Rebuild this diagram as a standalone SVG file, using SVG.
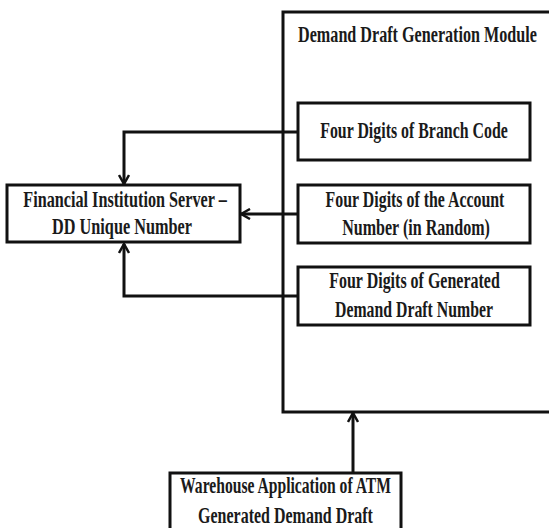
<svg xmlns="http://www.w3.org/2000/svg" width="549" height="528" viewBox="0 0 549 528">
<style>
.box{fill:#fff;stroke:#111;stroke-width:3}
.con{fill:none;stroke:#111;stroke-width:3}
text{font-family:"Liberation Serif","Times New Roman",serif;font-weight:bold;font-size:23px;fill:#1a1a1a;text-anchor:middle}
</style>
<defs>
<marker id="arr" viewBox="0 0 12 12" refX="11" refY="6" markerWidth="12" markerHeight="12" markerUnits="userSpaceOnUse" orient="auto">
<path d="M2,1 L11,6 L2,11" fill="none" stroke="#111" stroke-width="2.5"/>
</marker>
</defs>
<rect width="549" height="528" fill="#fff"/>
<g id="module">
<path class="box" d="M549,12 H283 V412 H549"/>
<text transform="translate(417.5,42) scale(0.702,1)">Demand Draft Generation Module</text>
</g>
<g id="branch">
<rect class="box" x="298" y="103" width="232" height="57"/>
<text transform="translate(414,138) scale(0.691,1)">Four Digits of Branch Code</text>
</g>
<g id="account">
<rect class="box" x="298" y="185" width="232" height="58"/>
<text transform="translate(415,207) scale(0.691,1)">Four Digits of the Account</text>
<text transform="translate(416,235) scale(0.698,1)">Number (in Random)</text>
</g>
<g id="generated">
<rect class="box" x="298" y="267" width="232" height="58"/>
<text transform="translate(414.5,288) scale(0.695,1)">Four Digits of Generated</text>
<text transform="translate(414,317) scale(0.687,1)">Demand Draft Number</text>
</g>
<g id="server">
<rect class="box" x="7" y="185" width="233" height="57"/>
<text transform="translate(125,207) scale(0.705,1)">Financial Institution Server –</text>
<text transform="translate(122,234) scale(0.707,1)">DD Unique Number</text>
</g>
<g id="warehouse">
<rect class="box" x="170" y="473" width="231" height="70"/>
<text transform="translate(285.5,493) scale(0.68,1)">Warehouse Application of ATM</text>
<text transform="translate(285.5,523) scale(0.695,1)">Generated Demand Draft</text>
</g>
<g id="connectors">
<path class="con" d="M298,132 H124 V184" marker-end="url(#arr)"/>
<path class="con" d="M298,214 H241" marker-end="url(#arr)"/>
<path class="con" d="M298,296 H124 V244" marker-end="url(#arr)"/>
<path class="con" d="M353,473 V413" marker-end="url(#arr)"/>
</g>
</svg>
